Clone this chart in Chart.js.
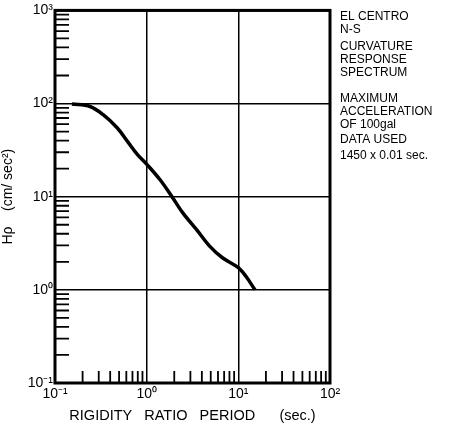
<!DOCTYPE html>
<html>
<head>
<meta charset="utf-8">
<script src="https://cdn.jsdelivr.net/npm/chart.js@4"></script>
<style>
  html, body { margin: 0; padding: 0; background: #fff; }
  #wrap { width: 457px; height: 425px; }
</style>
</head>
<body>
<div id="wrap"><canvas id="spectrum" width="457" height="425"></canvas></div>
<script>
// Curvature response spectrum, El Centro N-S
var periods = [0.153, 0.241, 0.335, 0.476, 0.62, 0.79, 1.01, 1.40, 1.89, 2.48, 3.52, 4.86, 6.71, 10.0, 12.2, 15.2];
var hValues = [99, 93, 76, 55, 39, 28.5, 22.1, 15.2, 10.0, 6.7, 4.4, 2.95, 2.21, 1.73, 1.38, 1.0];

var xTicks = [0.1, 1, 10, 100];
var xTickLabels = ['10\u207B\u00B9', '10\u2070', '10\u00B9', '10\u00B2'];
var yTicks = [0.1, 1, 10, 100, 1000];
var yTickLabels = ['10\u207B\u00B9', '10\u2070', '10\u00B9', '10\u00B2', '10\u00B3'];

var noteGroups = [
  ['EL CENTRO', 'N-S'],
  ['CURVATURE', 'RESPONSE', 'SPECTRUM'],
  ['MAXIMUM', 'ACCELERATION', 'OF 100gal'],
  ['DATA USED', '1450 x 0.01 sec.']
];

var FONT = '"Liberation Sans", Arial, sans-serif';

// minor ticks 2..9 inside every decade
function minorValues(decades) {
  var out = [];
  for (var i = 0; i < decades.length - 1; i++) {
    for (var k = 2; k <= 9; k++) out.push(decades[i] * k);
  }
  return out;
}

var framePlugin = {
  id: 'frame',
  afterDraw: function (chart) {
    var ctx = chart.ctx, a = chart.chartArea;
    var x = chart.scales.x, y = chart.scales.y;
    ctx.save();
    ctx.strokeStyle = '#000';
    ctx.lineWidth = 1.8;
    ctx.beginPath();
    minorValues(xTicks).forEach(function (v) {
      var px = x.getPixelForValue(v);
      ctx.moveTo(px, a.bottom);
      ctx.lineTo(px, a.bottom - 12);
    });
    minorValues(yTicks).forEach(function (v) {
      var py = y.getPixelForValue(v);
      ctx.moveTo(a.left, py);
      ctx.lineTo(a.left + 14, py);
    });
    ctx.stroke();

    ctx.lineWidth = 3;
    ctx.strokeRect(a.left, a.top, a.width, a.height);

    // side notes
    ctx.fillStyle = '#000';
    ctx.font = '12px ' + FONT;
    ctx.textAlign = 'left';
    ctx.textBaseline = 'alphabetic';
    var starts = [20, 50, 102, 143];
    noteGroups.forEach(function (lines, g) {
      lines.forEach(function (t, i) {
        ctx.fillText(t, a.right + 10, starts[g] + i * 13 + (g === 3 && i === 1 ? 3 : 0));
      });
    });
    ctx.restore();
  }
};

var ctx = document.getElementById('spectrum').getContext('2d');
var chart = new Chart(ctx, {
  type: 'line',
  data: {
    datasets: [{
      data: periods.map(function (p, i) { return { x: p, y: hValues[i] }; }),
      borderColor: '#000',
      borderWidth: 3.5,
      pointRadius: 0,
      fill: false,
      tension: 0.35
    }]
  },
  options: {
    responsive: false,
    animation: false,
    layout: { padding: { left: 0, right: 127, top: 10, bottom: 0 } },
    plugins: {
      legend: { display: false },
      tooltip: { enabled: false }
    },
    scales: {
      x: {
        type: 'logarithmic',
        min: 0.1,
        max: 100,
        afterBuildTicks: function (scale) {
          scale.ticks = xTicks.map(function (v) { return { value: v, major: true }; });
        },
        afterFit: function (scale) { scale.height = 42; },
        ticks: {
          color: '#000',
          autoSkip: false,
          maxRotation: 0,
          padding: 3,
          font: { family: FONT, size: 14 },
          callback: function (v) { return xTickLabels[xTicks.indexOf(v)]; }
        },
        grid: { color: '#000', lineWidth: 1.5, drawTicks: false },
        border: { display: false },
        title: {
          display: true,
          text: 'RIGIDITY   RATIO   PERIOD      (sec.)',
          color: '#000',
          font: { family: FONT, size: 14.5 },
          padding: { top: 2, bottom: 0 }
        }
      },
      y: {
        type: 'logarithmic',
        min: 0.1,
        max: 1000,
        afterBuildTicks: function (scale) {
          scale.ticks = yTicks.map(function (v) { return { value: v, major: true }; });
        },
        afterFit: function (scale) { scale.width = 55; },
        ticks: {
          color: '#000',
          autoSkip: false,
          padding: 2,
          font: { family: FONT, size: 14 },
          callback: function (v) { return yTickLabels[yTicks.indexOf(v)]; }
        },
        grid: { color: '#000', lineWidth: 1.5, drawTicks: false },
        border: { display: false },
        title: {
          display: true,
          text: 'H\u03C1    (cm/ sec\u00B2)',
          color: '#000',
          font: { family: FONT, size: 14 },
          padding: { top: 0, bottom: 2 }
        }
      }
    }
  },
  plugins: [framePlugin]
});
</script>
</body>
</html>
